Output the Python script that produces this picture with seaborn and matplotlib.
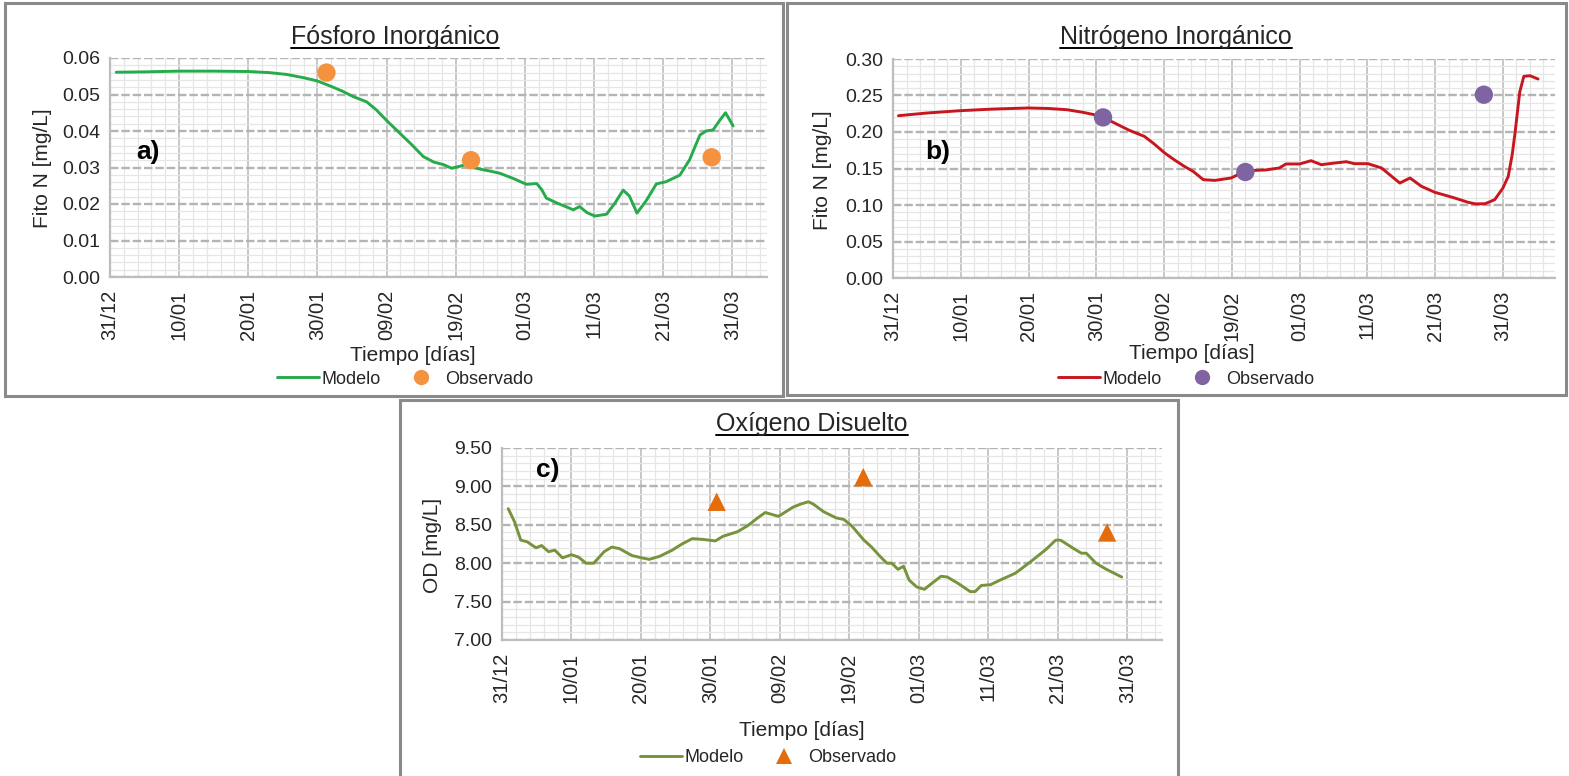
import matplotlib
matplotlib.use("Agg")
import matplotlib.pyplot as plt
import seaborn as sns
from matplotlib.lines import Line2D
from matplotlib.patches import Rectangle
from matplotlib.ticker import MultipleLocator

# ---------------------------------------------------------------- data
# time axis: days counted from 31/12
date_ticks = [0, 10, 20, 30, 40, 50, 60, 70, 80, 90]
date_labels = ["31/12", "10/01", "20/01", "30/01", "09/02",
               "19/02", "01/03", "11/03", "21/03", "31/03"]

# a) inorganic phosphorus
p_days = [0.9, 5, 10, 15, 20, 23, 25.5, 28, 30, 32, 33.5, 35.2, 37.1, 38.5,
          40.2, 41.9, 43.5, 45.3, 46.8, 48.2, 49.4, 50.5, 51.5, 52.5, 53.9,
          55.0, 56.4, 58.3, 60.2, 61.7, 62.4, 63.1, 64.6, 66.0, 67.0, 67.9,
          69.0, 70.1, 71.8, 73.0, 74.2, 75.1, 76.2, 77.6, 79.0, 80.4, 82.4,
          83.8, 85.3, 86.2, 87.2, 88.2, 89.0, 90.1]
p_model = [0.0561, 0.0562, 0.0564, 0.0564, 0.0563, 0.0560, 0.0555, 0.0546,
           0.0537, 0.0522, 0.0510, 0.0494, 0.0480, 0.0458, 0.0425, 0.0394,
           0.0365, 0.0330, 0.0315, 0.0308, 0.0298, 0.0303, 0.0308, 0.0300,
           0.0294, 0.0290, 0.0284, 0.0270, 0.0254, 0.0256, 0.0240, 0.0216,
           0.0203, 0.0192, 0.0184, 0.0193, 0.0176, 0.0167, 0.0172, 0.0202,
           0.0238, 0.0222, 0.0175, 0.0211, 0.0255, 0.0261, 0.0279, 0.0321,
           0.0389, 0.0400, 0.0403, 0.0430, 0.0450, 0.0414]
p_obs_days = [31.3, 52.2, 87.0]
p_obs = [0.0560, 0.0320, 0.0328]

# b) inorganic nitrogen
n_days = [0.8, 5, 9.9, 15, 20, 23, 25.7, 28, 29.7, 31, 32.7, 34.9, 37.1,
          38.5, 40.1, 41.5, 43.0, 44.3, 45.8, 47.5, 49.9, 51, 52, 53.3, 55,
          57.0, 58.0, 60.0, 61.7, 63.2, 65.2, 66.9, 68.1, 70.1, 72.1, 73.6,
          74.8, 76.3, 78.0, 80.0, 82.9, 84.9, 86, 87.4, 88.8, 90.0, 90.8,
          91.4, 91.8, 92.5, 93.1, 94.0, 95.2]
n_model = [0.2223, 0.2260, 0.2292, 0.2315, 0.2329, 0.2322, 0.2305, 0.2270,
           0.2237, 0.2200, 0.2123, 0.2022, 0.1940, 0.1840, 0.1712, 0.1620,
           0.1529, 0.1460, 0.1347, 0.1337, 0.1370, 0.1420, 0.1452, 0.1474,
           0.1480, 0.1507, 0.1562, 0.1562, 0.1607, 0.1552, 0.1575, 0.1593,
           0.1566, 0.1566, 0.1507, 0.1392, 0.1301, 0.1370, 0.1255, 0.1173,
           0.1096, 0.1036, 0.1015, 0.1018, 0.1073, 0.1230, 0.1392, 0.1700,
           0.1986, 0.2550, 0.2762, 0.2771, 0.2726]
n_obs_days = [31.0, 52.0, 87.2]
n_obs = [0.2200, 0.1452, 0.2511]

# c) dissolved oxygen
o_days = [0.9, 1.8, 2.7, 3.6, 4.9, 5.7, 6.7, 7.6, 8.7, 10.0, 11.0, 12.1,
          13.2, 14.7, 15.8, 16.9, 18.7, 20.1, 21.2, 22.7, 24.5, 25.9, 27.4,
          28.9, 30.7, 31.8, 33.9, 35.4, 36.8, 37.9, 39.8, 41.9, 43.0, 44.1,
          44.8, 46.3, 48.1, 49.2, 50.3, 52.1, 53.2, 54.3, 55.4, 56.1, 57.0,
          57.8, 58.6, 59.7, 60.8, 61.9, 63.2, 64.1, 65.6, 67.4, 68.1, 69.0,
          70.3, 71.7, 73.9, 76.1, 78.3, 79.7, 80.4, 82.3, 83.4, 84.1, 85.5,
          87.0, 89.2]
o_model = [8.71, 8.54, 8.30, 8.28, 8.20, 8.23, 8.15, 8.17, 8.07, 8.11, 8.08,
           8.00, 8.00, 8.15, 8.21, 8.19, 8.10, 8.07, 8.05, 8.09, 8.17, 8.25,
           8.32, 8.31, 8.29, 8.35, 8.41, 8.49, 8.59, 8.66, 8.61, 8.73, 8.77,
           8.80, 8.77, 8.67, 8.59, 8.57, 8.49, 8.30, 8.21, 8.10, 8.00, 8.00,
           7.92, 7.96, 7.78, 7.69, 7.66, 7.74, 7.83, 7.82, 7.74, 7.63, 7.63,
           7.71, 7.72, 7.78, 7.87, 8.02, 8.18, 8.30, 8.30, 8.19, 8.13, 8.13,
           8.00, 7.92, 7.82]
o_obs_days = [30.9, 52.0, 87.1]
o_obs = [8.80, 9.12, 8.40]

# ---------------------------------------------------------------- style
sns.set_theme(style="white")
plt.rcParams["font.family"] = ["Liberation Sans", "DejaVu Sans"]
TXT = "#262626"

W, H = 1569, 776
fig = plt.figure(figsize=(W / 100, H / 100), dpi=100)


def fx(px):
    return px / W


def fy(py):
    return 1 - py / H


def axes_px(left, top, right, bottom):
    return fig.add_axes([fx(left), fy(bottom), (right - left) / W, (bottom - top) / H])


def frame_px(left, top, right, bottom):
    fig.patches.append(Rectangle((fx(left), fy(bottom)), (right - left) / W,
                                 (bottom - top) / H, transform=fig.transFigure,
                                 facecolor="none", edgecolor="#8a8a8a", lw=2.2,
                                 zorder=0))


def panel(ax, days, model, od, ov, lc, mc, marker, xmax, ylim, ymaj, ymin, yfmt):
    sns.lineplot(x=days, y=model, ax=ax, color=lc, lw=2.1, legend=False,
                 zorder=3)
    sns.scatterplot(x=od, y=ov, ax=ax, color=mc, marker=marker, s=175,
                    edgecolor="none", linewidth=0, legend=False, zorder=4)
    ax.set_xlim(0, xmax)
    ax.set_ylim(*ylim)
    ax.set_xticks(date_ticks)
    ax.set_xticklabels(date_labels, rotation=90, fontsize=14.5, color=TXT)
    ax.xaxis.set_minor_locator(MultipleLocator(2))
    ax.yaxis.set_major_locator(MultipleLocator(ymaj))
    ax.yaxis.set_minor_locator(MultipleLocator(ymin))
    ax.set_yticklabels([yfmt.format(v) for v in ax.get_yticks()], fontsize=14,
                       color=TXT)
    ax.set_ylim(*ylim)
    ax.tick_params(axis="both", which="both", length=0)
    ax.tick_params(axis="x", pad=9)
    ax.tick_params(axis="y", pad=7)
    ax.set_xlabel("")
    ax.set_ylabel("")
    ax.set_axisbelow(True)
    ax.grid(which="minor", color="#e6e6e6", lw=0.9, ls="-")
    ax.xaxis.grid(True, which="major", color="#c3c3c3", lw=1.3, ls="-")
    ax.yaxis.grid(True, which="major", color="#b4b4b4", lw=1.7,
                  ls=(0, (3.6, 1.2)))
    for side in ("top", "right"):
        ax.spines[side].set_visible(False)
    for side in ("left", "bottom"):
        ax.spines[side].set_color("#bdbdbd")
        ax.spines[side].set_linewidth(1.6)
    ax.set_facecolor("white")


# panel frames
frame_px(5, 3, 783, 396)
frame_px(787, 3, 1566, 395)
frame_px(400, 400, 1178, 778)

ax_a = axes_px(110, 58, 767, 277)
panel(ax_a, p_days, p_model, p_obs_days, p_obs, "#25AA4C", "#F4923F", "o",
      95, (0, 0.06), 0.01, 0.002, "{:.2f}")

ax_b = axes_px(893, 59, 1555, 278)
panel(ax_b, n_days, n_model, n_obs_days, n_obs, "#C8161E", "#8064A2", "o",
      97.7, (0, 0.30), 0.05, 0.01, "{:.2f}")

ax_c = axes_px(502, 448, 1162, 640)
panel(ax_c, o_days, o_model, o_obs_days, o_obs, "#77933C", "#E46C0A", "^",
      95, (7.0, 9.5), 0.5, 0.1, "{:.2f}")

# titles (underlined), axis labels, panel tags
titles = [("Fósforo Inorgánico", 395, 37), ("Nitrógeno Inorgánico", 1176, 37),
          ("Oxígeno Disuelto", 812, 424)]
title_objs = [fig.text(fx(x), fy(y), t, ha="center", va="center", fontsize=18,
                       color=TXT) for t, x, y in titles]

for t, x, y in [("Fito N [mg/L]", 42, 168), ("Fito N [mg/L]", 822, 170),
                ("OD [mg/L]", 432, 545)]:
    fig.text(fx(x), fy(y), t, rotation=90, ha="center", va="center",
             fontsize=15, color=TXT)
for x, y in [(413, 356), (1192, 354), (802, 730)]:
    fig.text(fx(x), fy(y), "Tiempo [días]", ha="center", va="center",
             fontsize=15, color=TXT)
for t, x, y in [("a)", 148, 152), ("b)", 938, 152), ("c)", 548, 470)]:
    fig.text(fx(x), fy(y), t, ha="center", va="center", fontsize=19,
             fontweight="bold", color="black")

# legends
for lc, mc, mk, x, y in [("#25AA4C", "#F4923F", "o", 405, 379),
                         ("#C8161E", "#8064A2", "o", 1186, 379),
                         ("#77933C", "#E46C0A", "^", 768, 758)]:
    handles = [Line2D([], [], color=lc, lw=2.1),
               Line2D([], [], color=mc, marker=mk, ls="none", markersize=11,
                      markeredgewidth=0)]
    fig.legend(handles, ["Modelo", "Observado"], loc="center",
               bbox_to_anchor=(fx(x), fy(y)), ncol=2, frameon=False,
               fontsize=13, handlelength=2.3, handletextpad=0.15,
               columnspacing=1.1, labelcolor=TXT)

# underline each title
fig.canvas.draw()
renderer = fig.canvas.get_renderer()
for t in title_objs:
    bb = t.get_window_extent(renderer)
    yline = (bb.y0 + 1) / H
    fig.add_artist(Line2D([bb.x0 / W, bb.x1 / W], [yline, yline],
                          transform=fig.transFigure, color="black", lw=1.4))

fig.savefig("out.png", dpi=100, facecolor="white")
